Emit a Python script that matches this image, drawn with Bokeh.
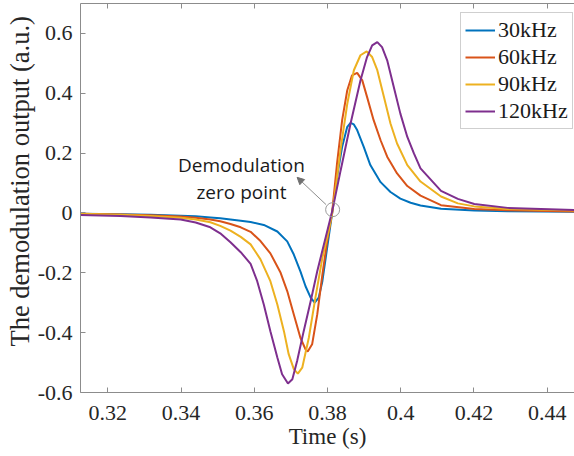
from bokeh.plotting import figure
from bokeh.models import (Range1d, LinearAxis, FixedTicker, Legend, LegendItem,
                          Label, Arrow, NormalHead, Title)
from bokeh.embed import file_html
from bokeh.resources import INLINE

# ---------------- data ----------------
series_names = ["30kHz", "60kHz", "90kHz", "120kHz"]

t_30 = [0.3125, 0.3235, 0.3317, 0.3399, 0.3440, 0.3480, 0.3507, 0.3535, 0.3563,
        0.3590, 0.3626, 0.3663, 0.3690, 0.3708, 0.3726, 0.3740, 0.3754, 0.3765,
        0.3776, 0.3786, 0.3799, 0.3813, 0.3826, 0.3840, 0.3854, 0.3863, 0.3872,
        0.3881, 0.3899, 0.3917, 0.3945, 0.3972, 0.3999, 0.4027, 0.4054, 0.4110,
        0.4201, 0.4292, 0.4475]
v_30 = [-0.003, -0.004, -0.006, -0.009, -0.011, -0.015, -0.018, -0.022, -0.026,
        -0.030, -0.040, -0.062, -0.095, -0.139, -0.195, -0.245, -0.283, -0.300,
        -0.283, -0.228, -0.117, 0.002, 0.121, 0.221, 0.288, 0.301, 0.296,
        0.277, 0.221, 0.160, 0.103, 0.070, 0.048, 0.034, 0.025, 0.014,
        0.008, 0.006, 0.004]

t_60 = [0.3125, 0.3235, 0.3317, 0.3399, 0.3440, 0.3480, 0.3507, 0.3535, 0.3563,
        0.3590, 0.3617, 0.3644, 0.3672, 0.3690, 0.3708, 0.3726, 0.3740, 0.3746,
        0.3758, 0.3772, 0.3786, 0.3799, 0.3813, 0.3826, 0.3840, 0.3854, 0.3867,
        0.3881, 0.3895, 0.3908, 0.3926, 0.3945, 0.3963, 0.3990, 0.4018, 0.4054,
        0.4110, 0.4201, 0.4292, 0.4475]
v_60 = [-0.003, -0.005, -0.008, -0.012, -0.016, -0.022, -0.028, -0.037, -0.048,
        -0.063, -0.094, -0.135, -0.200, -0.261, -0.339, -0.417, -0.456, -0.463,
        -0.439, -0.339, -0.206, -0.095, 0.005, 0.165, 0.310, 0.410, 0.460,
        0.468, 0.443, 0.388, 0.310, 0.243, 0.188, 0.132, 0.090, 0.058,
        0.026, 0.013, 0.009, 0.005]

t_90 = [0.3125, 0.3235, 0.3317, 0.3399, 0.3440, 0.3480, 0.3507, 0.3535, 0.3563,
        0.3590, 0.3617, 0.3644, 0.3663, 0.3681, 0.3694, 0.3708, 0.3719, 0.3731,
        0.3749, 0.3767, 0.3786, 0.3804, 0.3813, 0.3825, 0.3836, 0.3854, 0.3872,
        0.3890, 0.3907, 0.3922, 0.3936, 0.3954, 0.3972, 0.3990, 0.4018, 0.4054,
        0.4110, 0.4156, 0.4201, 0.4292, 0.4475]
v_90 = [-0.003, -0.006, -0.010, -0.016, -0.022, -0.031, -0.043, -0.059, -0.080,
        -0.105, -0.155, -0.228, -0.306, -0.395, -0.472, -0.522, -0.537, -0.517,
        -0.417, -0.283, -0.150, -0.055, 0.000, 0.110, 0.215, 0.365, 0.477,
        0.527, 0.540, 0.521, 0.477, 0.388, 0.299, 0.232, 0.160, 0.105,
        0.055, 0.032, 0.022, 0.013, 0.008]

t_120 = [0.3125, 0.3235, 0.3317, 0.3399, 0.3440, 0.3480, 0.3507, 0.3535, 0.3563,
         0.3590, 0.3608, 0.3626, 0.3644, 0.3663, 0.3676, 0.3692, 0.3704, 0.3717,
         0.3735, 0.3754, 0.3772, 0.3790, 0.3813, 0.3836, 0.3863, 0.3890, 0.3908,
         0.3922, 0.3936, 0.3949, 0.3963, 0.3981, 0.3999, 0.4018, 0.4036, 0.4054,
         0.4110, 0.4156, 0.4201, 0.4292, 0.4475]
v_120 = [-0.007, -0.010, -0.015, -0.022, -0.032, -0.048, -0.068, -0.098, -0.131,
         -0.170, -0.228, -0.306, -0.395, -0.483, -0.539, -0.570, -0.556, -0.495,
         -0.395, -0.295, -0.195, -0.106, 0.007, 0.143, 0.299, 0.443, 0.521,
         0.560, 0.571, 0.554, 0.510, 0.421, 0.332, 0.254, 0.199, 0.149,
         0.074, 0.047, 0.030, 0.017, 0.010]

x_ticks = [0.32, 0.34, 0.36, 0.38, 0.40, 0.42, 0.44]
x_tick_labels = ["0.32", "0.34", "0.36", "0.38", "0.4", "0.42", "0.44"]
y_ticks = [-0.6, -0.4, -0.2, 0.0, 0.2, 0.4, 0.6]
y_tick_labels = ["-0.6", "-0.4", "-0.2", "0", "0.2", "0.4", "0.6"]

zero_point = (0.3814, 0.011)
note_lines = ["Demodulation", "zero point"]

# ---------------- styling ----------------
colors = ["#0072BD", "#D95319", "#EDB120", "#7E2F8E"]
axis_gray = "#8c8c8c"
text_dark = "#262626"
serif = "Liberation Serif"

p = figure(width=574, height=456, output_backend="svg", toolbar_location=None,
           x_range=Range1d(0.31254, 0.44746), y_range=Range1d(-0.6, 0.7),
           min_border_left=80, min_border_right=0, min_border_top=3,
           min_border_bottom=64, background_fill_color="white",
           border_fill_color="white")
p.outline_line_color = None
p.grid.visible = False
p.title.visible = False

xa = p.xaxis[0]
xa.ticker = FixedTicker(ticks=x_ticks)
xa.major_label_overrides = {t: l for t, l in zip(x_ticks, x_tick_labels)}
ya = p.yaxis[0]
ya.ticker = FixedTicker(ticks=y_ticks)
ya.major_label_overrides = {t: l for t, l in zip(y_ticks, y_tick_labels)}
for ax in (xa, ya):
    ax.axis_line_color = axis_gray
    ax.major_tick_line_color = axis_gray
    ax.major_tick_in = 5
    ax.major_tick_out = 0
    ax.minor_tick_line_color = None
    ax.major_label_text_font = serif
    ax.major_label_text_font_size = "22px"
    ax.major_label_text_color = text_dark
    ax.major_label_text_font_style = "normal"
xa.major_label_standoff = 13
ya.major_label_standoff = 8
xa.axis_label = "Time (s)"
xa.axis_label_text_font = serif
xa.axis_label_text_font_size = "23px"
xa.axis_label_text_font_style = "normal"
xa.axis_label_text_color = text_dark
xa.axis_label_standoff = 1

top_axis = LinearAxis(ticker=FixedTicker(ticks=x_ticks),
                      major_label_text_font_size="1px", major_label_text_alpha=0,
                      major_label_standoff=0,
                      major_tick_in=5, major_tick_out=0,
                      minor_tick_line_color=None,
                      axis_line_color=axis_gray, major_tick_line_color=axis_gray)
p.add_layout(top_axis, "above")

ytitle = Title(text="The demodulation output (a.u.)", align="left", offset=46,
               text_font=serif, text_font_size="26.5px", text_font_style="normal",
               text_color=text_dark, standoff=0)
p.add_layout(ytitle, "left")

renderers = []
for t, v, c in zip([t_30, t_60, t_90, t_120], [v_30, v_60, v_90, v_120], colors):
    renderers.append(p.line(t, v, line_color=c, line_width=2))

legend = Legend(items=[LegendItem(label=n, renderers=[r])
                       for n, r in zip(series_names, renderers)],
                location=(380, 263), padding=4, spacing=1,
                glyph_width=30, glyph_height=22, label_height=22,
                label_standoff=3, label_text_font=serif,
                label_text_font_style="normal",
                label_text_font_size="22px", label_text_color="#1a1a1a",
                border_line_color="#a0a0a0", border_line_width=1,
                background_fill_color="white", background_fill_alpha=1)
p.add_layout(legend)

p.scatter([zero_point[0]], [zero_point[1]], marker="circle", size=14,
          fill_color=None, line_color="#9a9a9a", line_width=1)

p.add_layout(Arrow(end=NormalHead(size=7, fill_color="#707070", line_color="#707070"),
                   x_start=0.3796, y_start=0.028, x_end=0.3717, y_end=0.119,
                   line_color="#707070", line_width=0.8))

p.add_layout(Label(x=0.3565, y=0.161, text=note_lines[0], text_align="center",
                   text_baseline="alphabetic", text_font="Open Sans",
                   text_font_size="19px", text_color="#1a1a1a"))
p.add_layout(Label(x=0.3565, y=0.0687, text=note_lines[1], text_align="center",
                   text_baseline="alphabetic", text_font="Open Sans",
                   text_font_size="19px", text_color="#1a1a1a"))

open("out.html", "w").write(file_html(p, INLINE))
